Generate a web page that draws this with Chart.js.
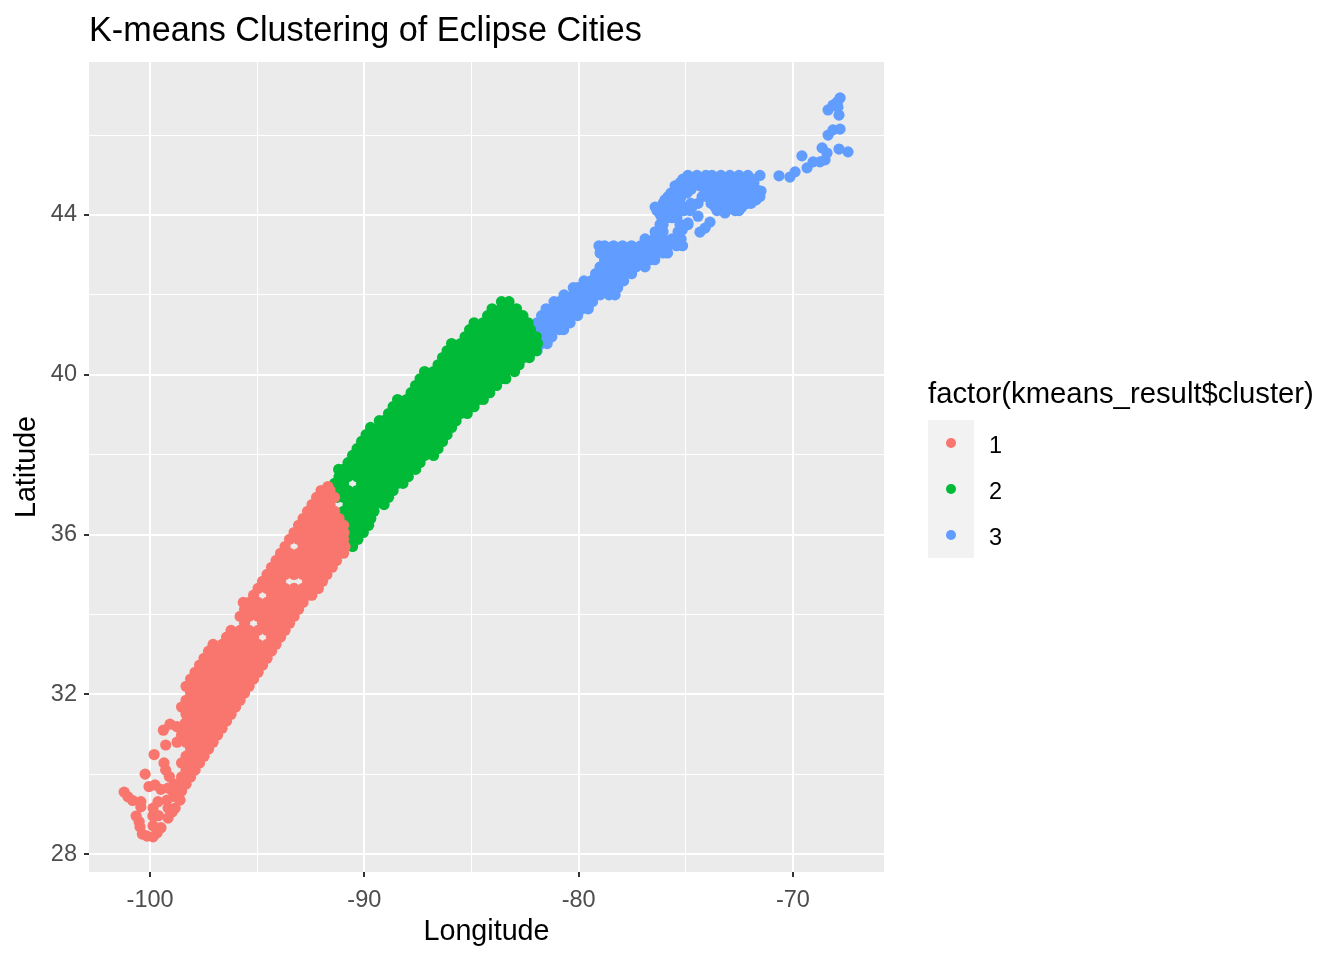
<!DOCTYPE html>
<html>
<head>
<meta charset="utf-8">
<title>K-means Clustering of Eclipse Cities</title>
<script src="https://cdn.jsdelivr.net/npm/chart.js@4"></script>
<style>
body { margin: 0; background: #fff; font-family: "Liberation Sans", Arial, sans-serif; }
#wrap { position: relative; width: 1344px; height: 960px; }
#legend { position: absolute; left: 928px; top: 374px; color: #000; }
#legend .name { font-size: 29.3px; line-height: 38px; white-space: nowrap; }
#legend .row { position: relative; width: 46px; height: 46px; background: #f2f2f2; }
#legend .key { position: absolute; left: 18px; top: 18px; width: 10px; height: 10px; border-radius: 50%; }
#legend .lab { position: absolute; left: 61px; top: 0; line-height: 50px; font-size: 23.5px; }
#legend .keys { margin-top: 8px; }
</style>
</head>
<body>
<div id="wrap">
<canvas id="clusterChart" width="1344" height="960"></canvas>
<div id="legend"></div>
</div>
<script>
const chartTitle = 'K-means Clustering of Eclipse Cities';
const legendTitle = 'factor(kmeans_result$cluster)';
const clusterNames = ['1', '2', '3'];
const clusterColors = ['#F8766D', '#00BA38', '#619CFF'];
const lonMajor = [-100, -90, -80, -70];
const lonMinor = [-95, -85, -75];
const latMajor = [28, 32, 36, 40, 44];
const latMinor = [30, 34, 38, 42, 46];

// [longitude, latitude], row by row up the band
const cluster1 = [
[-91.7,37.2],
[-92.02,37.1],[-91.6,37.1],
[-92.23,36.93],[-91.81,36.93],[-91.39,36.93],
[-92.44,36.75],[-92.02,36.75],[-91.6,36.75],
[-92.65,36.58],[-92.23,36.58],[-91.81,36.58],[-91.39,36.58],
[-92.86,36.4],[-92.44,36.4],[-92.02,36.4],[-91.6,36.4],[-91.18,36.4],
[-93.07,36.23],[-92.65,36.23],[-92.23,36.23],[-91.81,36.23],[-91.39,36.23],[-90.97,36.23],
[-93.28,36.05],[-92.86,36.05],[-92.44,36.05],[-92.02,36.05],[-91.6,36.05],[-91.18,36.05],[-90.95,36.05],
[-93.49,35.88],[-93.07,35.88],[-92.65,35.88],[-92.23,35.88],[-91.81,35.88],[-91.39,35.88],[-90.97,35.88],
[-93.7,35.7],[-92.86,35.7],[-92.44,35.7],[-92.02,35.7],[-91.6,35.7],[-91.18,35.7],[-90.9,35.7],
[-93.91,35.53],[-93.49,35.53],[-93.07,35.53],[-92.65,35.53],[-92.23,35.53],[-91.81,35.53],[-91.39,35.53],[-90.97,35.53],
[-94.12,35.35],[-93.7,35.35],[-93.28,35.35],[-92.86,35.35],[-92.44,35.35],[-92.02,35.35],[-91.6,35.35],[-91.3,35.35],
[-94.33,35.18],[-93.91,35.18],[-93.49,35.18],[-93.07,35.18],[-92.65,35.18],[-92.23,35.18],[-91.81,35.18],[-91.5,35.18],
[-94.54,35],[-94.12,35],[-93.7,35],[-93.28,35],[-92.86,35],[-92.44,35],[-92.02,35],[-91.75,35],
[-94.75,34.83],[-94.33,34.83],[-93.91,34.83],[-92.65,34.83],[-92.23,34.83],[-91.95,34.83],
[-94.96,34.65],[-94.54,34.65],[-94.12,34.65],[-93.7,34.65],[-93.28,34.65],[-92.86,34.65],[-92.44,34.65],[-92.15,34.65],
[-95.17,34.48],[-94.33,34.48],[-93.91,34.48],[-93.49,34.48],[-93.07,34.48],[-92.65,34.48],[-92.45,34.48],
[-95.65,34.3],[-95.38,34.3],[-94.96,34.3],[-94.54,34.3],[-94.12,34.3],[-93.7,34.3],[-93.28,34.3],[-92.86,34.3],
[-95.59,34.13],[-95.17,34.13],[-94.75,34.13],[-94.33,34.13],[-93.91,34.13],[-93.49,34.13],[-93.07,34.13],
[-95.8,33.95],[-95.38,33.95],[-94.96,33.95],[-94.54,33.95],[-94.12,33.95],[-93.7,33.95],[-93.28,33.95],
[-95.59,33.78],[-94.75,33.78],[-94.33,33.78],[-93.91,33.78],[-93.49,33.78],
[-96.22,33.6],[-95.8,33.6],[-95.38,33.6],[-94.96,33.6],[-94.54,33.6],[-94.12,33.6],[-93.7,33.6],
[-96.43,33.43],[-96.01,33.43],[-95.59,33.43],[-95.17,33.43],[-94.33,33.43],[-93.91,33.43],
[-97.06,33.25],[-96.64,33.25],[-96.22,33.25],[-95.8,33.25],[-95.38,33.25],[-94.96,33.25],[-94.54,33.25],[-94.12,33.25],
[-97.27,33.08],[-96.85,33.08],[-96.43,33.08],[-96.01,33.08],[-95.59,33.08],[-95.17,33.08],[-94.75,33.08],[-94.33,33.08],
[-97.48,32.9],[-97.06,32.9],[-96.64,32.9],[-96.22,32.9],[-95.8,32.9],[-95.38,32.9],[-94.96,32.9],[-94.54,32.9],
[-97.69,32.73],[-97.27,32.73],[-96.85,32.73],[-96.43,32.73],[-96.01,32.73],[-95.59,32.73],[-95.17,32.73],[-94.75,32.73],
[-97.9,32.55],[-97.48,32.55],[-97.06,32.55],[-96.64,32.55],[-96.22,32.55],[-95.8,32.55],[-95.38,32.55],[-94.96,32.55],
[-98.11,32.38],[-97.69,32.38],[-97.27,32.38],[-96.85,32.38],[-96.43,32.38],[-96.01,32.38],[-95.59,32.38],[-95.17,32.38],
[-98.32,32.2],[-97.9,32.2],[-97.48,32.2],[-97.06,32.2],[-96.64,32.2],[-96.22,32.2],[-95.8,32.2],[-95.38,32.2],
[-98.11,32.03],[-97.69,32.03],[-97.27,32.03],[-96.85,32.03],[-96.43,32.03],[-96.01,32.03],[-95.59,32.03],
[-98.32,31.85],[-97.9,31.85],[-97.48,31.85],[-97.06,31.85],[-96.64,31.85],[-96.22,31.85],[-95.8,31.85],
[-98.53,31.68],[-98.11,31.68],[-97.69,31.68],[-97.27,31.68],[-96.85,31.68],[-96.43,31.68],[-96.01,31.68],
[-98.32,31.5],[-97.9,31.5],[-97.48,31.5],[-97.06,31.5],[-96.64,31.5],[-96.22,31.5],
[-98.11,31.33],[-97.69,31.33],[-97.27,31.33],[-96.85,31.33],[-96.43,31.33],
[-98.32,31.15],[-97.9,31.15],[-97.48,31.15],[-97.06,31.15],[-96.64,31.15],
[-98.53,30.98],[-98.11,30.98],[-97.69,30.98],[-97.27,30.98],[-96.85,30.98],
[-98.74,30.8],[-98.32,30.8],[-97.9,30.8],[-97.48,30.8],[-97.06,30.8],
[-98.11,30.63],[-97.69,30.63],[-97.27,30.63],
[-98.32,30.45],[-97.9,30.45],[-97.48,30.45],
[-98.53,30.28],[-98.11,30.28],[-97.69,30.28],
[-98.32,30.1],[-97.9,30.1],
[-98.53,29.93],[-98.11,29.93],
[-98.74,29.75],[-98.32,29.75],
[-98.95,29.58],[-98.53,29.58],
[-98.83,29.43],[-98.6,29.35],[-99.21,29.35],[-98.83,29.15],[-99.16,29.15],[-98.97,29.05],
[-99.27,30.73],[-99.81,30.49],[-100.23,30],[-101.21,29.55],[-101.03,29.43],[-100.81,29.34],
[-100.43,29.31],[-100.43,29.18],[-100.65,28.95],[-100.51,28.81],[-100.47,28.68],[-100.36,28.5],
[-100.14,28.45],[-99.86,28.71],[-99.87,28.95],[-99.61,28.96],[-99.86,29.15],[-99.63,29.31],
[-99.16,28.9],[-99.67,28.53],[-99.86,28.43],[-99.49,28.66],[-100.05,29.69],[-99.77,29.73],
[-99.5,29.62],[-99.16,29.65],[-99.35,30.28],[-99.27,30.1],[-99.1,29.94],[-98.88,29.75],
[-99.38,31.1],[-99.07,31.25],[-98.75,31.19],[-98.37,31.27],[-98.05,31.31]
];

const cluster2 = [
[-90.55,35.7],
[-90.55,35.88],[-90.3,35.88],
[-90.76,36.05],[-90.34,36.05],[-90.05,36.05],
[-90.55,36.23],[-90.13,36.23],[-89.8,36.23],
[-90.76,36.4],[-90.34,36.4],[-89.92,36.4],[-89.7,36.4],
[-90.97,36.58],[-90.55,36.58],[-90.13,36.58],[-89.71,36.58],[-89.55,36.58],
[-90.76,36.75],[-90.34,36.75],[-89.92,36.75],[-89.5,36.75],[-89.08,36.75],
[-91.27,36.93],[-90.97,36.93],[-90.55,36.93],[-90.13,36.93],[-89.71,36.93],[-89.29,36.93],[-88.87,36.93],
[-91.18,37.1],[-90.76,37.1],[-90.34,37.1],[-89.92,37.1],[-89.5,37.1],[-89.08,37.1],[-88.66,37.1],
[-91.39,37.28],[-90.97,37.28],[-90.13,37.28],[-89.71,37.28],[-89.29,37.28],[-88.87,37.28],[-88.45,37.28],[-88.2,37.28],
[-91.18,37.45],[-90.76,37.45],[-90.34,37.45],[-89.92,37.45],[-89.5,37.45],[-89.08,37.45],[-88.66,37.45],[-88.24,37.45],[-87.95,37.45],
[-91.2,37.63],[-90.97,37.63],[-90.55,37.63],[-90.13,37.63],[-89.71,37.63],[-89.29,37.63],[-88.87,37.63],[-88.45,37.63],[-88.03,37.63],[-87.61,37.63],
[-90.76,37.8],[-90.34,37.8],[-89.92,37.8],[-89.5,37.8],[-89.08,37.8],[-88.66,37.8],[-88.24,37.8],[-87.82,37.8],[-87.4,37.8],
[-90.55,37.98],[-90.13,37.98],[-89.71,37.98],[-89.29,37.98],[-88.87,37.98],[-88.45,37.98],[-88.03,37.98],[-87.61,37.98],[-87.19,37.98],[-86.77,37.98],
[-90.34,38.15],[-89.92,38.15],[-89.5,38.15],[-89.08,38.15],[-88.66,38.15],[-88.24,38.15],[-87.82,38.15],[-87.4,38.15],[-86.98,38.15],[-86.56,38.15],
[-90.13,38.33],[-89.71,38.33],[-89.29,38.33],[-88.87,38.33],[-88.45,38.33],[-88.03,38.33],[-87.61,38.33],[-87.19,38.33],[-86.77,38.33],[-86.35,38.33],
[-89.92,38.5],[-89.5,38.5],[-89.08,38.5],[-88.66,38.5],[-88.24,38.5],[-87.82,38.5],[-87.4,38.5],[-86.98,38.5],[-86.56,38.5],[-86.14,38.5],
[-89.71,38.68],[-89.29,38.68],[-88.87,38.68],[-88.45,38.68],[-88.03,38.68],[-87.61,38.68],[-87.19,38.68],[-86.77,38.68],[-86.35,38.68],[-85.93,38.68],
[-89.3,38.85],[-89.08,38.85],[-88.66,38.85],[-88.24,38.85],[-87.82,38.85],[-87.4,38.85],[-86.98,38.85],[-86.56,38.85],[-86.14,38.85],[-85.72,38.85],
[-88.87,39.03],[-88.45,39.03],[-88.03,39.03],[-87.61,39.03],[-87.19,39.03],[-86.77,39.03],[-86.35,39.03],[-85.93,39.03],[-85.51,39.03],[-85.2,39.03],
[-88.66,39.2],[-88.24,39.2],[-87.82,39.2],[-87.4,39.2],[-86.98,39.2],[-86.56,39.2],[-86.14,39.2],[-85.72,39.2],[-85.3,39.2],[-84.88,39.2],
[-88.45,39.38],[-88.03,39.38],[-87.61,39.38],[-87.19,39.38],[-86.77,39.38],[-86.35,39.38],[-85.93,39.38],[-85.51,39.38],[-85.09,39.38],[-84.67,39.38],[-84.45,39.38],
[-87.82,39.55],[-87.4,39.55],[-86.98,39.55],[-86.56,39.55],[-86.14,39.55],[-85.72,39.55],[-85.3,39.55],[-84.88,39.55],[-84.46,39.55],[-84.15,39.55],
[-87.61,39.73],[-87.19,39.73],[-86.77,39.73],[-86.35,39.73],[-85.93,39.73],[-85.51,39.73],[-85.09,39.73],[-84.67,39.73],[-84.25,39.73],[-83.83,39.73],
[-87.4,39.9],[-86.98,39.9],[-86.56,39.9],[-86.14,39.9],[-85.72,39.9],[-85.3,39.9],[-84.88,39.9],[-84.46,39.9],[-84.04,39.9],[-83.62,39.9],[-83.4,39.9],
[-87.19,40.08],[-86.77,40.08],[-86.35,40.08],[-85.93,40.08],[-85.51,40.08],[-85.09,40.08],[-84.67,40.08],[-84.25,40.08],[-83.83,40.08],[-83.41,40.08],[-82.99,40.08],
[-86.56,40.25],[-86.14,40.25],[-85.72,40.25],[-85.3,40.25],[-84.88,40.25],[-84.46,40.25],[-84.04,40.25],[-83.62,40.25],[-83.2,40.25],[-82.78,40.25],
[-86.35,40.43],[-85.93,40.43],[-85.51,40.43],[-85.09,40.43],[-84.67,40.43],[-84.25,40.43],[-83.83,40.43],[-83.41,40.43],[-82.99,40.43],[-82.57,40.43],[-82.3,40.43],
[-86.14,40.6],[-85.72,40.6],[-85.3,40.6],[-84.88,40.6],[-84.46,40.6],[-84.04,40.6],[-83.62,40.6],[-83.2,40.6],[-82.78,40.6],[-82.36,40.6],[-81.98,40.6],
[-85.93,40.78],[-85.51,40.78],[-85.09,40.78],[-84.67,40.78],[-84.25,40.78],[-83.83,40.78],[-83.41,40.78],[-82.99,40.78],[-82.57,40.78],[-82.15,40.78],[-81.92,40.78],
[-85.3,40.95],[-84.88,40.95],[-84.46,40.95],[-84.04,40.95],[-83.62,40.95],[-83.2,40.95],[-82.78,40.95],[-82.36,40.95],[-81.98,40.95],
[-85.09,41.13],[-84.67,41.13],[-84.25,41.13],[-83.83,41.13],[-83.41,41.13],[-82.99,41.13],[-82.57,41.13],[-82.25,41.13],
[-84.88,41.3],[-84.46,41.3],[-84.04,41.3],[-83.62,41.3],[-83.2,41.3],[-82.78,41.3],[-82.36,41.3],
[-84.25,41.48],[-83.83,41.48],[-83.41,41.48],[-82.99,41.48],[-82.6,41.48],
[-84.04,41.65],[-83.62,41.65],[-83.2,41.65],[-82.9,41.65],
[-83.6,41.83],[-83.25,41.83]
];

const cluster3 = [
[-81.94,40.6],
[-81.73,40.78],[-81.47,40.78],
[-81.94,40.95],[-81.52,40.95],[-81.25,40.95],
[-82.15,41.13],[-81.73,41.13],[-81.31,41.13],[-80.89,41.13],[-80.7,41.13],
[-81.94,41.3],[-81.52,41.3],[-81.1,41.3],[-80.68,41.3],[-80.4,41.3],
[-81.73,41.48],[-81.31,41.48],[-80.89,41.48],[-80.47,41.48],[-80.05,41.48],
[-81.52,41.65],[-81.1,41.65],[-80.68,41.65],[-80.26,41.65],[-79.84,41.65],[-79.55,41.65],
[-81.15,41.83],[-80.89,41.83],[-80.47,41.83],[-80.05,41.83],[-79.63,41.83],[-79.35,41.83],
[-80.68,42],[-80.26,42],[-79.84,42],[-79.42,42],[-79,42],[-78.58,42],[-78.3,42],
[-80.25,42.18],[-80.05,42.18],[-79.63,42.18],[-79.21,42.18],[-78.79,42.18],[-78.37,42.18],[-78.18,42.18],
[-79.75,42.35],[-79.42,42.35],[-79,42.35],[-78.58,42.35],[-78.16,42.35],[-77.9,42.35],
[-79.21,42.53],[-78.79,42.53],[-78.37,42.53],[-77.95,42.53],[-77.53,42.53],
[-79,42.7],[-78.58,42.7],[-78.16,42.7],[-77.74,42.7],[-77.32,42.7],[-76.9,42.7],
[-78.79,42.88],[-78.37,42.88],[-77.95,42.88],[-77.53,42.88],[-77.11,42.88],[-76.69,42.88],[-76.45,42.88],
[-79,43.05],[-78.58,43.05],[-78.16,43.05],[-77.74,43.05],[-77.32,43.05],[-76.9,43.05],[-76.48,43.05],[-76.06,43.05],[-75.85,43.05],
[-79.05,43.23],[-78.79,43.23],[-78.37,43.23],[-77.95,43.23],[-77.53,43.23],[-77.11,43.23],[-76.69,43.23],[-76.27,43.23],[-75.85,43.23],[-75.43,43.23],[-75.15,43.23],
[-76.9,43.4],[-76.48,43.4],[-76.06,43.4],[-75.64,43.4],[-75.22,43.4],
[-76.43,43.58],[-76.06,43.58],[-75.36,43.58],
[-76.2,43.76],[-76.06,43.76],[-75.27,43.76],[-74.9,43.76],
[-76.11,43.93],[-75.88,43.93],[-75.64,43.93],[-75.41,43.93],
[-76.2,44.02],[-75.78,44.02],[-75.46,44.02],
[-76.34,44.11],[-75.92,44.11],[-75.6,44.11],[-75.08,44.11],[-74.8,44.11],
[-76.43,44.2],[-76.01,44.2],[-75.64,44.2],[-75.36,44.2],[-75.08,44.2],[-74.71,44.2],
[-76.06,44.29],[-75.64,44.29],[-75.41,44.29],[-74.76,44.29],[-74.43,44.29],
[-75.97,44.38],[-75.6,44.38],[-75.27,44.38],
[-75.83,44.46],[-75.64,44.46],[-75.41,44.46],[-75.22,44.46],[-74.24,44.46],
[-75.69,44.55],[-75.27,44.55],[-74.94,44.55],
[-75.41,44.64],[-75.18,44.64],[-74.99,44.64],[-74.76,44.64],
[-75.5,44.73],[-75.08,44.73],[-74.66,44.73],[-74.34,44.73],
[-75.27,44.81],[-74.85,44.81],[-74.43,44.81],[-74.15,44.81],
[-75.13,44.9],[-74.71,44.9],[-74.29,44.9],[-73.96,44.9],
[-74.9,44.99],[-74.48,44.99],[-74.06,44.99],
[-73.78,44.99],[-73.36,44.99],[-72.94,44.99],[-72.52,44.99],[-72.1,44.99],[-71.54,44.99],
[-73.59,44.9],[-73.17,44.9],[-72.75,44.9],[-72.33,44.9],[-71.91,44.9],
[-73.87,44.81],[-73.45,44.81],[-73.03,44.81],[-72.61,44.81],[-72.19,44.81],[-71.82,44.81],
[-73.96,44.73],[-73.59,44.73],[-73.17,44.73],[-72.75,44.73],[-72.33,44.73],[-71.91,44.73],
[-73.82,44.64],[-73.4,44.64],[-72.98,44.64],[-72.56,44.64],[-72.14,44.64],[-71.72,44.64],[-71.49,44.6],
[-74.1,44.55],[-73.68,44.55],[-73.26,44.55],[-72.84,44.55],[-72.42,44.55],[-72,44.55],[-71.63,44.55],
[-74.01,44.46],[-73.59,44.46],[-73.17,44.46],[-72.75,44.46],[-72.33,44.46],[-71.91,44.46],[-71.54,44.46],
[-73.78,44.38],[-73.36,44.38],[-72.94,44.38],[-72.52,44.38],[-72.1,44.38],[-71.72,44.38],
[-73.82,44.29],[-73.4,44.29],[-72.98,44.29],[-72.56,44.29],[-72.14,44.29],[-71.96,44.29],
[-73.63,44.2],[-73.21,44.2],[-72.79,44.2],[-72.38,44.2],
[-73.54,44.11],[-73.12,44.11],[-72.7,44.11],[-72.52,44.11],
[-73.17,44.05],
[-74.43,43.97],[-74.9,43.8],[-75.17,43.62],[-73.87,43.82],[-74.1,43.67],[-74.34,43.57],
[-70.65,44.98],[-70.14,44.95],[-69.9,45.08],[-69.58,45.48],[-69.34,45.18],[-69.06,45.33],
[-68.74,45.33],[-68.5,45.38],[-68.64,45.68],[-68.41,45.55],[-68.36,46],[-68.13,46.13],
[-67.8,46.15],[-67.85,45.65],[-67.43,45.58],[-67.85,46.5],[-68.36,46.63],[-68.13,46.75],
[-67.93,46.83],[-67.8,46.93],[-67.9,46.7]
];

const clusters = [cluster1, cluster2, cluster3];

const panelBackground = {
    id: 'panelBackground',
    beforeDraw(chart) {
        const area = chart.chartArea;
        const ctx = chart.ctx;
        ctx.save();
        ctx.fillStyle = '#EBEBEB';
        ctx.fillRect(area.left, area.top, area.width, area.height);
        ctx.restore();
    }
};

function isMajor(list, value) {
    return list.includes(value);
}

new Chart(document.getElementById('clusterChart'), {
    type: 'scatter',
    data: {
        datasets: clusters.map((points, i) => ({
            label: clusterNames[i],
            data: points,
            backgroundColor: clusterColors[i],
            borderWidth: 0,
            pointRadius: 5.6,
            pointHoverRadius: 5.6
        }))
    },
    plugins: [panelBackground],
    options: {
        responsive: false,
        animation: false,
        layout: { padding: { left: 0, right: 460, top: 0, bottom: 0 } },
        plugins: {
            legend: { display: false },
            tooltip: { enabled: false },
            title: {
                display: true,
                text: chartTitle,
                fullSize: false,
                align: 'start',
                color: '#000',
                font: { family: '"Liberation Sans"', size: 34.2, weight: 'normal', lineHeight: 1.2 },
                padding: { top: 11.5, bottom: 9.46 }
            }
        },
        scales: {
            x: {
                type: 'linear',
                min: -102.85,
                max: -65.75,
                afterBuildTicks: scale => {
                    scale.ticks = lonMajor.concat(lonMinor).map(v => ({ value: v }));
                },
                afterFit: scale => { scale.height = 88; },
                border: { display: false },
                grid: {
                    color: '#fff',
                    lineWidth: c => isMajor(lonMajor, c.tick.value) ? 2 : 1,
                    tickColor: c => isMajor(lonMajor, c.tick.value) ? '#333' : 'rgba(0,0,0,0)',
                    tickLength: 5,
                    tickWidth: 2
                },
                ticks: {
                    autoSkip: false,
                    maxRotation: 0,
                    color: '#4D4D4D',
                    padding: 9,
                    font: { family: '"Liberation Sans"', size: 23.5 },
                    callback: v => isMajor(lonMajor, v) ? String(v) : ''
                },
                title: {
                    display: true,
                    text: 'Longitude',
                    color: '#000',
                    font: { family: '"Liberation Sans"', size: 28.7 },
                    padding: { top: 2, bottom: 11 }
                }
            },
            y: {
                type: 'linear',
                min: 27.55,
                max: 47.83,
                afterBuildTicks: scale => {
                    scale.ticks = latMajor.concat(latMinor).map(v => ({ value: v }));
                },
                afterFit: scale => { scale.width = 89; },
                border: { display: false },
                grid: {
                    color: '#fff',
                    lineWidth: c => isMajor(latMajor, c.tick.value) ? 2 : 1,
                    tickColor: c => isMajor(latMajor, c.tick.value) ? '#333' : 'rgba(0,0,0,0)',
                    tickLength: 5,
                    tickWidth: 2
                },
                ticks: {
                    autoSkip: false,
                    color: '#4D4D4D',
                    padding: 7,
                    font: { family: '"Liberation Sans"', size: 23.5 },
                    callback: v => isMajor(latMajor, v) ? String(v) : ''
                },
                title: {
                    display: true,
                    text: 'Latitude',
                    color: '#000',
                    font: { family: '"Liberation Sans"', size: 28.7 },
                    padding: { top: 10, bottom: 0 }
                }
            }
        }
    }
});

// legend sits beside the panel, ggplot style
const legend = document.getElementById('legend');
legend.innerHTML = '<div class="name"></div><div class="keys"></div>';
legend.querySelector('.name').textContent = legendTitle;
clusterNames.forEach((name, i) => {
    const row = document.createElement('div');
    row.className = 'row';
    const key = document.createElement('div');
    key.className = 'key';
    key.style.background = clusterColors[i];
    const lab = document.createElement('div');
    lab.className = 'lab';
    lab.textContent = name;
    row.appendChild(key);
    row.appendChild(lab);
    legend.querySelector('.keys').appendChild(row);
});
</script>
</body>
</html>
